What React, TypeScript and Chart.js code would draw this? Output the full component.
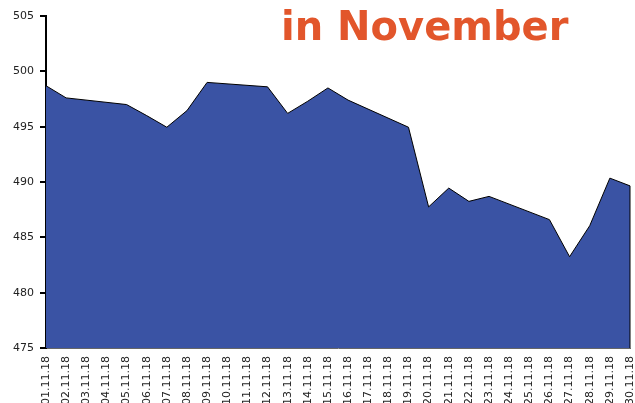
import React, { useEffect, useRef } from "react";
import { Chart, registerables } from "chart.js";

Chart.register(...registerables);

const categories = [
  "01.11.18", "02.11.18", "03.11.18", "04.11.18", "05.11.18", "06.11.18",
  "07.11.18", "08.11.18", "09.11.18", "10.11.18", "11.11.18", "12.11.18",
  "13.11.18", "14.11.18", "15.11.18", "16.11.18", "17.11.18", "18.11.18",
  "19.11.18", "20.11.18", "21.11.18", "22.11.18", "23.11.18", "24.11.18",
  "25.11.18", "26.11.18", "27.11.18", "28.11.18", "29.11.18", "30.11.18",
];

const values: (number | null)[] = [
  498.7, 497.6, null, null, 497.0, 496.0,
  494.95, 496.45, 499.0, null, null, 498.6,
  496.2, 497.3, 498.5, 497.4, null, null,
  494.95, 487.75, 489.45, 488.25, 488.7, null,
  null, 486.6, 483.25, 486.05, 490.35, 489.65,
];

const yMin = 475;
const yMax = 505;
const yStep = 5;
const titleText = "in November";

export default function App() {
  const ref = useRef<HTMLCanvasElement | null>(null);

  useEffect(() => {
    if (!ref.current) return;

    const overlay = {
      id: "overlay",
      afterDatasetsDraw(chart: any) {
        const ctx = chart.ctx;
        const meta = chart.getDatasetMeta(0);
        const pts = meta.data;
        const last = pts[pts.length - 1];
        if (last) {
          ctx.save();
          ctx.strokeStyle = "#000";
          ctx.lineWidth = 1;
          ctx.beginPath();
          ctx.moveTo(last.x, last.y);
          ctx.lineTo(last.x, chart.chartArea.bottom);
          ctx.stroke();
          ctx.restore();
        }
      },
      afterDraw(chart: any) {
        const ctx = chart.ctx;
        const y = chart.scales.y;
        const left = chart.chartArea.left;
        ctx.save();
        ctx.fillStyle = "#000";
        for (const t of y.ticks) {
          const py = Math.round(y.getPixelForValue(t.value));
          ctx.fillRect(left - 6, py - 1, 6, 2);
        }
        ctx.font = "bold 40px 'DejaVu Sans'";
        ctx.fillStyle = "#E2562B";
        ctx.textAlign = "left";
        ctx.textBaseline = "alphabetic";
        ctx.fillText(titleText, 281, 40);
        ctx.restore();
      },
    };

    const chart = new Chart(ref.current, {
      type: "line",
      data: {
        labels: categories,
        datasets: [
          {
            data: values,
            borderColor: "#000",
            borderWidth: 1,
            backgroundColor: "#3A53A4",
            fill: "start",
            pointRadius: 0,
            tension: 0,
            spanGaps: true,
          },
        ],
      },
      options: {
        animation: false,
        responsive: false,
        devicePixelRatio: 1,
        layout: { padding: { top: 16, right: 5, left: 0, bottom: 0 } },
        plugins: {
          legend: { display: false },
          tooltip: { enabled: false },
          title: { display: false },
        },
        scales: {
          x: {
            offset: false,
            grid: { display: false, drawTicks: false },
            border: { display: true, color: "#666", width: 1 },
            ticks: {
              autoSkip: false,
              minRotation: 90,
              maxRotation: 90,
              padding: 8,
              color: "#222",
              font: { family: "'DejaVu Sans'", size: 11 },
            },
            afterFit(scale: any) {
              scale.height = 55;
              scale.paddingLeft = 0;
              scale.paddingRight = 0;
            },
          },
          y: {
            min: yMin,
            max: yMax,
            grid: { display: false, drawTicks: false },
            border: { display: true, color: "#000", width: 2 },
            ticks: {
              stepSize: yStep,
              padding: 12,
              color: "#222",
              font: { family: "'DejaVu Sans'", size: 11 },
            },
            afterFit(scale: any) {
              scale.width = 46;
              scale.paddingTop = 0;
              scale.paddingBottom = 0;
            },
          },
        },
      },
      plugins: [overlay],
    });

    return () => chart.destroy();
  }, []);

  return (
    <div style={{ position: "fixed", left: 0, top: 0, width: 635, height: 403, background: "#fff" }}>
      <canvas ref={ref} width={635} height={403} style={{ display: "block" }} />
    </div>
  );
}
